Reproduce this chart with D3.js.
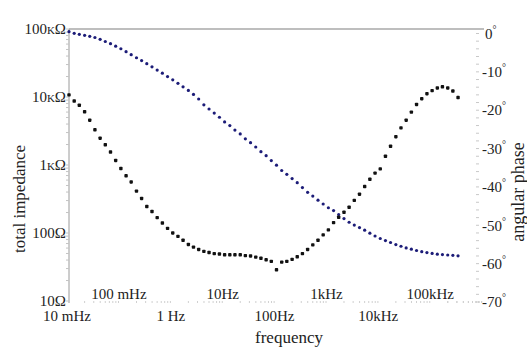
<!DOCTYPE html>
<html>
<head>
<meta charset="utf-8">
<script src="https://cdn.jsdelivr.net/npm/d3@7"></script>
<style>
  body { margin: 0; background: #fff; }
  svg { display: block; }
  text { font-family: "Liberation Serif", "Times New Roman", serif; fill: #222; }
</style>
</head>
<body>
<div id="chart"></div>
<script>
// frequency sweep, 10 points per decade (Hz)
const freq = [
  0.01, 0.0126, 0.0158, 0.02, 0.0251, 0.0316, 0.0398, 0.0501, 0.0631, 0.0794,
  0.1, 0.126, 0.158, 0.2, 0.251, 0.316, 0.398, 0.501, 0.631, 0.794,
  1, 1.26, 1.58, 2, 2.51, 3.16, 3.98, 5.01, 6.31, 7.94,
  10, 12.6, 15.8, 20, 25.1, 31.6, 39.8, 50.1, 63.1, 79.4,
  100, 126, 158, 200, 251, 316, 398, 501, 631, 794,
  1000, 1260, 1580, 2000, 2510, 3160, 3980, 5010, 6310, 7940,
  10000, 12600, 15800, 20000, 25100, 31600, 39800, 50100, 63100, 79400,
  100000, 126000, 158000, 200000, 251000, 316000
];

// |Z| in ohm
const impedance = [
  91200, 86500, 83600, 80800, 78100, 75000, 70600, 65500, 60800, 55900,
  51200, 46400, 41900, 37800, 34300, 30900, 27800, 24900, 22400, 20000,
  17900, 15900, 14100, 12500, 10900, 9350, 7680, 6660, 5800, 5040,
  4300, 3800, 3260, 2860, 2430, 2130, 1840, 1570, 1370, 1160,
  993, 830, 730, 631, 549, 465, 397, 349, 304, 267,
  235, 214, 187, 163, 144, 131, 120, 110, 99.3, 90.3,
  83.0, 77.3, 72.5, 67.5, 63.9, 60.4, 57.8, 55.3, 53.2, 51.5,
  50.1, 48.9, 48.1, 47.5, 46.9, 46.2
];

// phase angle in degrees
const phase = [
  -16.0, -17.6, -18.7, -20.4, -22.6, -25.1, -27.3, -29.0, -30.9, -33.1,
  -35.2, -37.1, -38.7, -41.1, -43.0, -45.1, -46.4, -48.0, -49.4, -50.8,
  -52.0, -52.9, -53.9, -55.0, -55.7, -56.3, -56.8, -57.1, -57.4, -57.5,
  -57.7, -57.7, -57.7, -57.7, -57.9, -58.0, -58.3, -58.6, -59.0, -59.4,
  -61.6, -59.6, -59.4, -58.9, -58.2, -57.4, -56.3, -55.1, -53.9, -52.5,
  -51.2, -49.3, -47.9, -46.6, -45.3, -43.5, -41.9, -39.9, -38.0, -36.4,
  -35.3, -32.0, -29.4, -26.9, -24.6, -22.6, -20.5, -18.5, -17.0, -15.7,
  -14.9, -14.2, -13.9, -14.2, -15.0, -16.7
];

const zTicks = [10, 100, 1000, 10000, 100000];
const zLabels = ['10Ω', '100Ω', '1kΩ', '10kΩ', '100kΩ'];
const fTicks = [0.01, 0.1, 1, 10, 100, 1000, 10000, 100000];
const fLabels = ['10 mHz', '100 mHz', '1 Hz', '10Hz', '100Hz', '1kHz', '10kHz', '100kHz'];
const phaseTicks = [0, -10, -20, -30, -40, -50, -60, -70];

const W = 527, H = 349;
const plotLeft = 69, plotRight = 484, plotTop = 29, plotBottom = 301;

const svg = d3.select('#chart')
  .append('svg')
  .attr('width', W)
  .attr('height', H);

const x = d3.scaleLog().domain([0.01, 1e6]).range([plotLeft, plotRight]);
const yZ = d3.scaleLog().domain([10, 1e5]).range([plotBottom, plotTop]);
const yP = d3.scaleLinear().domain([-70, 0]).range([302, 33.5]);

// frame lines
svg.append('line')
  .attr('x1', plotLeft).attr('x2', plotRight)
  .attr('y1', plotTop).attr('y2', plotTop)
  .attr('stroke', '#a8a8a8').attr('stroke-width', 1.5);

svg.append('line')
  .attr('x1', plotLeft).attr('x2', plotLeft)
  .attr('y1', plotTop).attr('y2', plotBottom + 2)
  .attr('stroke', '#9a9a9a').attr('stroke-width', 1);

// minor ticks, left axis
const zMinor = [];
zTicks.slice(0, -1).forEach(d => { for (let k = 2; k <= 9; k++) zMinor.push(d * k); });
svg.append('g').selectAll('line')
  .data(zMinor.concat(zTicks))
  .enter().append('line')
  .attr('x1', plotLeft - 3).attr('x2', plotLeft)
  .attr('y1', d => yZ(d)).attr('y2', d => yZ(d))
  .attr('stroke', '#c4c4c4').attr('stroke-width', 1);

// minor ticks, bottom axis
const fMinor = [];
fTicks.concat([1e5]).forEach(d => { for (let k = 2; k <= 9; k++) fMinor.push(d * k); });
svg.append('g').selectAll('line')
  .data(fMinor.filter(d => d < 1e6))
  .enter().append('line')
  .attr('x1', d => x(d)).attr('x2', d => x(d))
  .attr('y1', 301).attr('y2', 303)
  .attr('stroke', '#d0d0d0').attr('stroke-width', 1);

// minor ticks, right axis
svg.append('g').selectAll('line')
  .data(d3.range(0, -71, -2))
  .enter().append('line')
  .attr('x1', 476).attr('x2', 479)
  .attr('y1', d => yP(d)).attr('y2', d => yP(d))
  .attr('stroke', '#c8c8c8').attr('stroke-width', 1);

// left tick labels
svg.append('g').selectAll('text')
  .data(zTicks)
  .enter().append('text')
  .attr('x', 66)
  .attr('y', d => yZ(d))
  .attr('dy', '0.3em')
  .attr('text-anchor', 'end')
  .attr('font-size', '15px')
  .style('font-variant', 'small-caps')
  .text((d, i) => zLabels[i]);

// bottom tick labels, two staggered rows
svg.append('g').selectAll('text')
  .data(fTicks)
  .enter().append('text')
  .attr('x', d => x(d) - 2)
  .attr('y', (d, i) => i % 2 === 0 ? 321 : 299)
  .attr('text-anchor', 'middle')
  .attr('font-size', '15px')
  .text((d, i) => fLabels[i]);

// right tick labels
const pLab = svg.append('g').selectAll('text')
  .data(phaseTicks)
  .enter().append('text')
  .attr('x', d => d === 0 ? 485 : 482)
  .attr('y', d => yP(d))
  .attr('dy', '0.35em')
  .attr('font-size', '15px');
pLab.append('tspan').text(d => d);
pLab.append('tspan')
  .attr('font-size', '10px')
  .attr('dy', '-0.6em')
  .text('°');

// axis titles
svg.append('text')
  .attr('transform', 'translate(25,199) rotate(-90)')
  .attr('text-anchor', 'middle')
  .attr('font-size', '17px')
  .text('total impedance');

svg.append('text')
  .attr('transform', 'translate(524,192) rotate(-90)')
  .attr('text-anchor', 'middle')
  .attr('font-size', '18px')
  .text('angular phase');

svg.append('text')
  .attr('x', 289).attr('y', 343)
  .attr('text-anchor', 'middle')
  .attr('font-size', '17px')
  .text('frequency');

// impedance series
svg.append('g').selectAll('circle')
  .data(freq)
  .enter().append('circle')
  .attr('cx', d => x(d))
  .attr('cy', (d, i) => yZ(impedance[i]))
  .attr('r', 1.6)
  .attr('fill', '#1c1c78');

// phase series
svg.append('g').selectAll('rect')
  .data(freq)
  .enter().append('rect')
  .attr('x', d => x(d) - 1.7)
  .attr('y', (d, i) => yP(phase[i]) - 1.7)
  .attr('width', 3.4).attr('height', 3.4)
  .attr('rx', 0.8)
  .attr('fill', '#111');
</script>
</body>
</html>
